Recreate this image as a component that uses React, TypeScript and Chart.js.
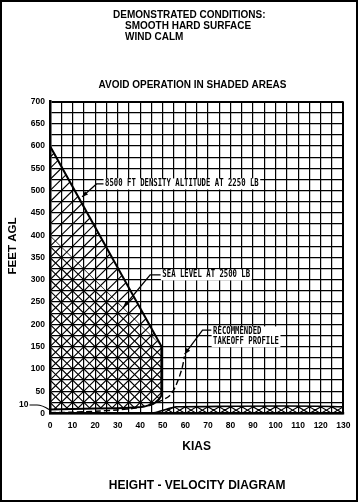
import React, { useEffect, useRef } from 'react';
import { Chart, registerables } from 'chart.js';

Chart.register(...registerables);

// ---------------- data ----------------
// 8500 ft density altitude @ 2250 lb avoid region (outer boundary, single hatch)
const kias8500 = [0, 49.5, 49.5, 49.2, 48.3, 46.8, 44.8, 42.5, 40, 35, 30, 20, 10, 0];
const ft8500 = [600, 150, 50, 40, 32, 25, 20, 16.5, 14.5, 13, 12, 11, 10, 9];

// sea level @ 2500 lb avoid region (adds second hatch -> cross hatch)
const kiasSea = [0, 46, 49.5, 49.5, 49.2, 48.3, 46.8, 44.8, 42.5, 40, 35, 30, 20, 10, 0];
const ftSea = [400, 170, 150, 50, 40, 32, 25, 20, 16.5, 14.5, 13, 12, 11, 10, 9];

// low-altitude high-speed avoid band
const kiasBand = [44, 46, 48, 50, 52, 54, 56, 130, 130];
const ftBand = [0, 1.5, 4, 7, 10, 13, 15, 15, 0];

// recommended takeoff profile (dashed)
const kiasTakeoff = [0, 10, 20, 30, 38, 44, 48, 51, 53, 54.5, 56, 57.5, 58.7, 59.6];
const ftTakeoff = [2, 3, 5, 8, 12, 18, 26, 33, 40, 50, 65, 85, 105, 128];

// axes
const xMin = 0, xMax = 130, xStep = 5, xLabelEvery = 10;
const yMin = 0, yMax = 700, yStep = 25, yLabelEvery = 50;

// texts
const headerLines = ['DEMONSTRATED CONDITIONS:', 'SMOOTH HARD SURFACE', 'WIND CALM'];
const subHeader = 'AVOID OPERATION IN SHADED AREAS';
const xTitle = 'KIAS';
const yTitle = 'FEET AGL';
const footer = 'HEIGHT - VELOCITY DIAGRAM';
const label8500 = '8500 FT DENSITY ALTITUDE AT 2250 LB';
const labelSea = 'SEA LEVEL AT 2500 LB';
const labelTakeoff = ['RECOMMENDED', 'TAKEOFF PROFILE'];
const label10 = '10';

// annotation anchor points (data units)
const notes = [
  { lines: [label8500], at: [24.4, 515], leader: [[23.7, 515], [20.6, 515], [14.2, 486]] },
  { lines: [labelSea], at: [49.8, 311], leader: [[49.0, 311], [44.4, 311], [32.6, 239]] },
  { lines: labelTakeoff, at: [72.3, 183], leader: [[71.5, 187], [67.6, 187], [59.7, 133]] },
];

const pts = (xs: number[], ys: number[]) => xs.map((x, i) => ({ x, y: ys[i] }));

// ---------------- hatch patterns ----------------
const cache: Record<string, any> = {};
function hatch(chart: any, slopes: number[], key: string) {
  const area = chart.chartArea;
  const xs = chart.scales?.x;
  const ys = chart.scales?.y;
  if (!area || !xs || !ys) return 'rgba(0,0,0,0)';
  const k = key + ':' + area.left + ',' + area.top + ',' + area.right + ',' + area.bottom;
  if (cache[k]) return cache[k];
  const c = document.createElement('canvas');
  c.width = chart.width;
  c.height = chart.height;
  const g = c.getContext('2d') as CanvasRenderingContext2D;
  g.strokeStyle = '#000';
  g.lineWidth = 1.15;
  g.beginPath();
  for (const s of slopes) {
    for (let i = -50; i <= 80; i++) {
      const x0 = i * xStep;
      g.moveTo(xs.getPixelForValue(x0 - 200), ys.getPixelForValue(-200 * s));
      g.lineTo(xs.getPixelForValue(x0 + 200), ys.getPixelForValue(200 * s));
    }
  }
  g.stroke();
  const p = chart.ctx.createPattern(c, 'no-repeat');
  cache[k] = p;
  return p;
}

// ---------------- text helpers ----------------
function monoText(ctx: CanvasRenderingContext2D, text: string, x: number, y: number) {
  ctx.save();
  ctx.translate(x, y);
  ctx.scale(0.76, 1);
  ctx.font = 'bold 9.6px "DejaVu Sans Mono"';
  ctx.textBaseline = 'middle';
  ctx.textAlign = 'left';
  ctx.fillStyle = '#000';
  ctx.fillText(text, 0, 0);
  ctx.restore();
}
function monoWidth(ctx: CanvasRenderingContext2D, text: string) {
  ctx.save();
  ctx.font = 'bold 9.6px "DejaVu Sans Mono"';
  const w = ctx.measureText(text).width * 0.76;
  ctx.restore();
  return w;
}
function arrowHead(ctx: CanvasRenderingContext2D, fx: number, fy: number, tx: number, ty: number) {
  const a = Math.atan2(ty - fy, tx - fx);
  const L = 6, W = 2.3;
  ctx.beginPath();
  ctx.moveTo(tx, ty);
  ctx.lineTo(tx - L * Math.cos(a) + W * Math.sin(a), ty - L * Math.sin(a) - W * Math.cos(a));
  ctx.lineTo(tx - L * Math.cos(a) - W * Math.sin(a), ty - L * Math.sin(a) + W * Math.cos(a));
  ctx.closePath();
  ctx.fill();
}

const hvPlugin = {
  id: 'hvText',
  beforeDraw(chart: any) {
    const ctx = chart.ctx;
    ctx.save();
    ctx.fillStyle = '#fff';
    ctx.fillRect(0, 0, chart.width, chart.height);
    ctx.restore();
  },
  afterDatasetsDraw(chart: any) {
    const ctx: CanvasRenderingContext2D = chart.ctx;
    const xs = chart.scales.x, ys = chart.scales.y;
    const area = chart.chartArea;
    ctx.save();
    ctx.fillStyle = '#000';
    ctx.strokeStyle = '#000';
    ctx.lineWidth = 1.3;
    for (const n of notes) {
      const x = xs.getPixelForValue(n.at[0]);
      const y0 = ys.getPixelForValue(n.at[1]);
      const lh = 9.8;
      let w = 0;
      n.lines.forEach((t) => { w = Math.max(w, monoWidth(ctx, t)); });
      ctx.fillStyle = '#fff';
      ctx.fillRect(x - 1.5, y0 - 5.5, w + 3, lh * (n.lines.length - 1) + 11);
      ctx.fillStyle = '#000';
      n.lines.forEach((t, i) => monoText(ctx, t, x, y0 + i * lh));
      const p = n.leader.map(([a, b]) => [xs.getPixelForValue(a), ys.getPixelForValue(b)]);
      ctx.beginPath();
      ctx.moveTo(p[0][0], p[0][1]);
      for (let i = 1; i < p.length; i++) ctx.lineTo(p[i][0], p[i][1]);
      ctx.stroke();
      const q = p[p.length - 2], r = p[p.length - 1];
      arrowHead(ctx, q[0], q[1], r[0], r[1]);
    }
    // "10" marker at left axis
    const y10 = ys.getPixelForValue(10);
    ctx.font = 'bold 8.5px "Liberation Sans"';
    ctx.textAlign = 'right';
    ctx.textBaseline = 'middle';
    ctx.fillText(label10, area.left - 21.5, y10 - 4);
    ctx.lineWidth = 1.1;
    ctx.beginPath();
    ctx.moveTo(area.left - 20.5, y10 - 4);
    ctx.lineTo(area.left - 13, y10 - 4);
    ctx.quadraticCurveTo(area.left - 8, y10 - 4, area.left - 1, y10 + 0.5);
    ctx.stroke();
    ctx.restore();
  },
  afterDraw(chart: any) {
    const ctx: CanvasRenderingContext2D = chart.ctx;
    const area = chart.chartArea;
    ctx.save();
    ctx.fillStyle = '#000';
    ctx.textBaseline = 'middle';
    ctx.textAlign = 'left';
    ctx.font = 'bold 10px "Liberation Sans"';
    ctx.fillText(headerLines[0], 113, 15);
    ctx.fillText(headerLines[1], 125, 26);
    ctx.fillText(headerLines[2], 125, 37.3);
    ctx.textAlign = 'center';
    ctx.fillText(subHeader, 192.5, 85);
    ctx.font = 'bold 12px "Liberation Sans"';
    const cx = (area.left + area.right) / 2;
    ctx.fillText(xTitle, cx, 447);
    ctx.fillText(footer, cx + 0.5, 486);
    ctx.save();
    ctx.translate(13, 246);
    ctx.rotate(-Math.PI / 2);
    ctx.font = 'bold 11.5px "Liberation Sans"';
    ctx.fillText(yTitle, 0, 0);
    ctx.restore();
    // frame
    ctx.strokeStyle = '#000';
    ctx.lineWidth = 2;
    ctx.strokeRect(1, 1, chart.width - 2, chart.height - 2);
    ctx.restore();
  },
};

export default function App() {
  const ref = useRef<HTMLCanvasElement | null>(null);
  useEffect(() => {
    document.body.style.margin = '0';
    const canvas = ref.current;
    if (!canvas) return;
    const tickFont = { family: '"Liberation Sans", Arial, sans-serif', size: 8.5, weight: 'bold' as const };
    const chart = new Chart(canvas, {
      type: 'line',
      data: {
        datasets: [
          {
            data: pts(kias8500, ft8500),
            fill: 'shape',
            backgroundColor: (c: any) => hatch(c.chart, [5], 'fwd'),
            borderColor: '#000',
            borderWidth: 2,
            pointRadius: 0,
            tension: 0,
          },
          {
            data: pts(kiasSea, ftSea),
            fill: 'shape',
            backgroundColor: (c: any) => hatch(c.chart, [-5], 'back'),
            borderColor: 'rgba(0,0,0,0)',
            borderWidth: 0,
            pointRadius: 0,
            tension: 0,
          },
          {
            data: pts(kiasBand, ftBand),
            fill: 'shape',
            backgroundColor: (c: any) => hatch(c.chart, [3, -3], 'band'),
            borderColor: '#000',
            borderWidth: 1.6,
            pointRadius: 0,
            tension: 0.3,
          },
          {
            data: pts(kiasTakeoff, ftTakeoff),
            fill: false,
            borderColor: '#000',
            borderWidth: 1.4,
            borderDash: [6, 3],
            pointRadius: 0,
            tension: 0.3,
          },
        ],
      } as any,
      options: {
        responsive: false,
        devicePixelRatio: 1,
        animation: false,
        events: [],
        layout: { padding: { top: 101.5, right: 14.7, left: 0, bottom: 0 } },
        plugins: { legend: { display: false }, tooltip: { enabled: false }, title: { display: false } },
        scales: {
          x: {
            type: 'linear',
            min: xMin,
            max: xMax,
            afterFit: (s: any) => { s.height = 88.5; },
            ticks: {
              stepSize: xStep,
              autoSkip: false,
              maxRotation: 0,
              padding: 7,
              color: '#000',
              font: tickFont,
              callback: (v: any) => (Number(v) % xLabelEvery === 0 ? String(v) : ''),
            },
            grid: {
              color: '#000',
              drawTicks: false,
              lineWidth: (c: any) => (c.tick && c.tick.value === xMax ? 2 : 1.2),
            },
            border: { display: true, color: '#000', width: 2.5 },
          },
          y: {
            type: 'linear',
            min: yMin,
            max: yMax,
            afterFit: (s: any) => { s.width = 50; },
            ticks: {
              stepSize: yStep,
              autoSkip: false,
              padding: 5,
              color: '#000',
              font: tickFont,
              callback: (v: any) => (Number(v) % yLabelEvery === 0 ? String(v) : ''),
            },
            grid: {
              color: '#000',
              drawTicks: false,
              lineWidth: (c: any) => (c.tick && c.tick.value === yMax ? 2 : 1.2),
            },
            border: { display: true, color: '#000', width: 2.5 },
          },
        },
      } as any,
      plugins: [hvPlugin],
    });
    return () => chart.destroy();
  }, []);
  return (
    <div style={{ position: 'fixed', left: 0, top: 0, width: 358, height: 502, background: '#fff' }}>
      <canvas ref={ref} width={358} height={502} style={{ display: 'block' }} />
    </div>
  );
}
